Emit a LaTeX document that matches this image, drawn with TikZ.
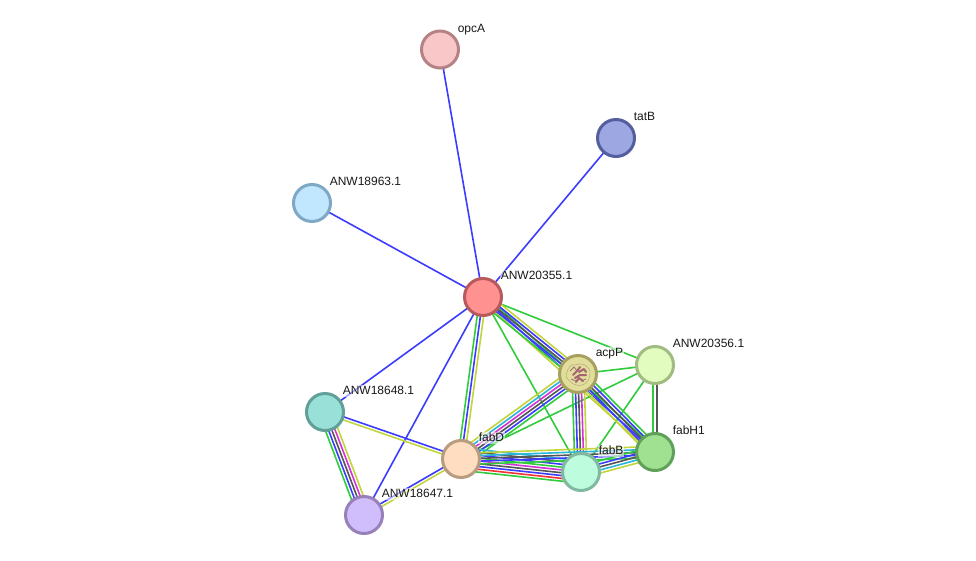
\documentclass[tikz,border=0pt]{standalone}
\usepackage{fontspec}
\setmainfont{Liberation Sans}
\usetikzlibrary{calc,backgrounds}
\definecolor{eGreen}{HTML}{30CC3C}
\definecolor{eBlue}{HTML}{3C3CFF}
\definecolor{eBlack}{HTML}{555555}
\definecolor{eMagenta}{HTML}{D633D6}
\definecolor{eCyan}{HTML}{2BB5D8}
\definecolor{eYellow}{HTML}{C3D53C}
\definecolor{eRed}{HTML}{F53333}
% Rim and fill colours of the proteins
\definecolor{opcAe}{RGB}{181,131,133}\definecolor{opcAf}{RGB}{249,199,199}
\definecolor{tatBe}{RGB}{84,95,160}\definecolor{tatBf}{RGB}{157,167,226}
\definecolor{aae}{RGB}{126,168,196}\definecolor{aaf}{RGB}{192,231,253}
\definecolor{abe}{RGB}{184,90,92}\definecolor{abf}{RGB}{255,145,145}
\definecolor{acpe}{RGB}{168,160,96}\definecolor{acpf}{RGB}{225,221,155}
\definecolor{ace}{RGB}{160,188,128}\definecolor{acf}{RGB}{226,252,192}
\definecolor{fHe}{RGB}{96,160,88}\definecolor{fHf}{RGB}{159,224,145}
\definecolor{fBe}{RGB}{128,184,160}\definecolor{fBf}{RGB}{189,252,220}
\definecolor{fDe}{RGB}{184,156,128}\definecolor{fDf}{RGB}{254,221,192}
\definecolor{ade}{RGB}{96,160,152}\definecolor{adf}{RGB}{153,225,216}
\definecolor{aee}{RGB}{152,128,184}\definecolor{aef}{RGB}{208,189,252}
\definecolor{foldA}{RGB}{175,160,115}\definecolor{foldB}{RGB}{165,100,115}\definecolor{foldC}{RGB}{155,110,115}
\tikzset{
  protein/.style={circle,draw=#1e,fill=#1f,line width=3pt,minimum size=37pt,inner sep=0pt},
  namelabel/.style={anchor=west,font=\fontsize{12}{14}\selectfont,text=black!90,
    text height=9pt,text depth=2.5pt,
    fill=white,fill opacity=.55,text opacity=1,inner sep=.6pt},
  evidence/.style={line width=1.6pt}
}
% Draws a bundle of parallel evidence lines: the colours are spread evenly around the centre line.
\newcommand{\bundle}[4][3]{%
  \def\bundlecount{0}%
  \foreach \ecol in {#4}{\pgfmathtruncatemacro{\ecnt}{\bundlecount+1}\global\let\bundlecount\ecnt}%
  \pgfmathsetmacro{\bundlestart}{-(\bundlecount-1)*#1/2}%
  \foreach \ecol [count=\eidx from 0] in {#4}{%
    \pgfmathsetmacro{\eoff}{\bundlestart+\eidx*#1}%
    \draw[evidence,\ecol] ($(#2.center)!\eoff pt!90:(#3.center)$) -- ($(#3.center)!\eoff pt!-90:(#2.center)$);
  }%
}
\begin{document}
\begin{tikzpicture}[x=1pt,y=-1pt]
\useasboundingbox (0,0) rectangle (976,560);

% Proteins
\node[protein=opcA] (opcA) at (440,49.5) {};
\node[protein=tatB] (tatB) at (616,138) {};
\node[protein=aa] (n18963) at (312,203) {};
\node[protein=ab] (n20355) at (483,297) {};
\node[protein=acp] (acpP) at (578,374) {};
\node[protein=ac] (n20356) at (655,365) {};
\node[protein=fH] (fabH) at (655,452) {};
\node[protein=fB] (fabB) at (581,472) {};
\node[protein=fD] (fabD) at (461,459) {};
\node[protein=ad] (n18648) at (325,412) {};
\node[protein=ae] (n18647) at (364,515) {};

% Page background and evidence lines, kept behind the proteins
\begin{pgfonlayer}{background}
\fill[white] (0,0) rectangle (976,560);
\bundle{opcA}{n20355}{eBlue}
\bundle{tatB}{n20355}{eBlue}
\bundle{n18963}{n20355}{eBlue}
\bundle{n18648}{n20355}{eBlue}
\bundle{n18647}{n20355}{eBlue}
\bundle{n20355}{n20356}{eGreen}
\bundle{n20355}{fabB}{eGreen}
\bundle[3.2]{fabD}{n20355}{eYellow,eBlue,eGreen}
\bundle[3]{n20355}{fabH}{eYellow,eBlue,eGreen}
\bundle[2.8]{n20355}{acpP}{eGreen,eBlue,eBlack,eBlue,eYellow}
\bundle{acpP}{n20356}{eGreen}
\bundle{fabD}{n20356}{eGreen}
\bundle{fabB}{n20356}{eGreen}
\bundle[4]{fabH}{n20356}{eBlack,eGreen}
\bundle[3]{fabD}{acpP}{eGreen,eBlue,eBlack,eMagenta,eCyan,eYellow}
\bundle[3]{fabB}{acpP}{eYellow,eMagenta,eBlack,eBlue,eGreen}
\bundle[3]{acpP}{fabH}{eYellow,eBlue,eBlack,eBlue,eGreen}
\bundle[2.8]{fabD}{fabB}{eGreen,eRed,eBlue,eBlack,eMagenta,eGreen,eBlue,eBlack,eCyan}
\bundle[2.8]{fabD}{fabH}{eGreen,eBlue,eBlack,eCyan,eYellow}
\bundle[3]{fabB}{fabH}{eYellow,eCyan,eBlack,eBlue,eGreen}
\bundle[3.1]{n18647}{n18648}{eYellow,eMagenta,eBlack,eBlue,eGreen}
\bundle[3]{n18648}{fabD}{eYellow,eBlue}
\bundle[3]{n18647}{fabD}{eYellow,eBlue}
\end{pgfonlayer}

% Fold sketch inside acpP
\begin{scope}[shift={(acpP.center)}]
  \draw[line width=.4pt,foldA]
    (-12,3) .. controls (-11,-6) and (-7,-11) .. (-3,-9) .. controls (3,-12) and (10,-9) .. (12,-3)
    .. controls (13,4) and (9,10) .. (4,11) .. controls (0,13) and (-7,10) .. (-12,3);
  \draw[line width=2pt,line cap=round,line join=round,foldB]
    (-5,1) -- (-1,-3) -- (2,-7) (1,-2) -- (6,-5) -- (8,-2) (-3,4) -- (2,1) -- (8,1) (-2,8) -- (1,4) -- (5,7);
  \draw[line width=.8pt,foldC]
    (-8,-3) -- (-4,-7) -- (-1,-3) (3,7) -- (8,5) (-7,5) -- (-2,7);
\end{scope}

% Names
\node[namelabel] (l1) at (457,29) {opcA};
\node[namelabel] (l2) at (633,117) {tatB};
\node[namelabel] (l3) at (329,182) {ANW18963.1};
\node[namelabel] (l4) at (500,276) {ANW20355.1};
\node[namelabel] (l5) at (595,353) {acpP};
\node[namelabel] (l6) at (672,344) {ANW20356.1};
\node[namelabel] (l7) at (672,431) {fabH1};
\node[namelabel] (l8) at (598,451) {fabB};
\node[namelabel] (l9) at (478,438) {fabD};
\node[namelabel] (l10) at (342,391) {ANW18648.1};
\node[namelabel] (l11) at (381,494) {ANW18647.1};
\end{tikzpicture}
\end{document}
